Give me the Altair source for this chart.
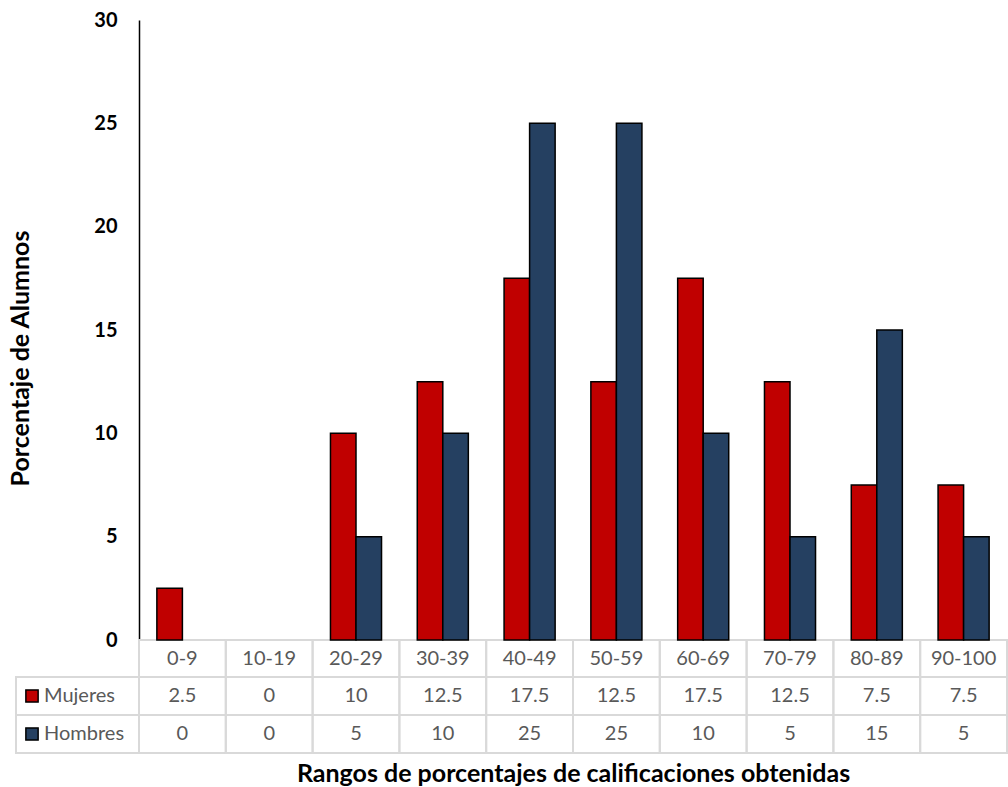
import altair as alt
import pandas as pd

# Score ranges and the share of students (percent) in each, by group
rangos = ["0-9", "10-19", "20-29", "30-39", "40-49",
          "50-59", "60-69", "70-79", "80-89", "90-100"]
mujeres = [2.5, 0, 10, 12.5, 17.5, 12.5, 17.5, 12.5, 7.5, 7.5]
hombres = [0, 0, 5, 10, 25, 25, 10, 5, 15, 5]
grupos = ["Mujeres", "Hombres"]
colores = ["#C00000", "#254061"]

FONT = "Lato"
GRID = "#D9D9D9"
TXT = "#595959"

W, H = 868, 620
ROW_TOP = [H, H + 37, H + 75]        # header / Mujeres / Hombres row tops
ROW_BOT = [H + 37, H + 75, H + 113]

long_df = pd.DataFrame({
    "rango": rangos * 2,
    "grupo": ["Mujeres"] * len(rangos) + ["Hombres"] * len(rangos),
    "valor": mujeres + hombres,
})
cat_df = pd.DataFrame({"rango": rangos})
leg_df = pd.DataFrame({"grupo": grupos})

x_cat = alt.X("rango:N", sort=rangos,
              scale=alt.Scale(paddingInner=0, paddingOuter=0),
              axis=alt.Axis(labels=False, ticks=False, domain=False, grid=False,
                            title="Rangos de porcentajes de calificaciones obtenidas",
                            titleFont=FONT, titleFontSize=25, titleFontWeight="bold",
                            titleColor="black", titleY=133, titleBaseline="middle"))

y_val = alt.Y("valor:Q",
              scale=alt.Scale(domain=[0, 30], nice=False),
              axis=alt.Axis(values=[0, 5, 10, 15, 20, 25, 30], ticks=False, grid=False,
                            domainColor="black", domainWidth=1.5,
                            labelFont=FONT, labelFontSize=20, labelFontWeight="bold",
                            labelColor="black", labelPadding=22,
                            title="Porcentaje de Alumnos",
                            titleFont=FONT, titleFontSize=25, titleFontWeight="bold",
                            titleColor="black", titleX=-119, titleY=338,
                            titleBaseline="middle", titleAngle=-90))

# Zero values draw no bar
bars = alt.Chart(long_df).transform_filter(alt.datum.valor > 0).mark_bar(
    stroke="black", strokeWidth=1.5).encode(
    x=x_cat,
    xOffset=alt.XOffset("grupo:N", sort=grupos,
                        scale=alt.Scale(domain=grupos, paddingInner=0, paddingOuter=0.7)),
    y=y_val,
    color=alt.Color("grupo:N", scale=alt.Scale(domain=grupos, range=colores), legend=None),
)

# Data table underneath the bars
cells = []
for r in range(3):
    cells.append(alt.Chart(cat_df).mark_rect(
        fill="white", fillOpacity=0, stroke=GRID, strokeWidth=2).encode(
        x=x_cat, y=alt.value(ROW_TOP[r]), y2=alt.value(ROW_BOT[r])))

leg_cells = []
for r in (1, 2):
    leg_cells.append(alt.Chart(cat_df.head(1)).mark_rect(
        fill="white", fillOpacity=0, stroke=GRID, strokeWidth=2).encode(
        x=alt.value(-123), x2=alt.value(0),
        y=alt.value(ROW_TOP[r]), y2=alt.value(ROW_BOT[r])))

header = alt.Chart(cat_df).mark_text(font=FONT, fontSize=20, color=TXT, baseline="middle").encode(
    x=x_cat, y=alt.value((ROW_TOP[0] + ROW_BOT[0]) / 2), text="rango:N")

value_rows = []
for i, g in enumerate(grupos):
    r = i + 1
    value_rows.append(alt.Chart(long_df).transform_filter(alt.datum.grupo == g).mark_text(
        font=FONT, fontSize=20, color=TXT, baseline="middle").encode(
        x=x_cat, y=alt.value((ROW_TOP[r] + ROW_BOT[r]) / 2), text="valor:Q"))

legend_marks = []
for i, g in enumerate(grupos):
    r = i + 1
    yc = (ROW_TOP[r] + ROW_BOT[r]) / 2
    sub = leg_df[leg_df.grupo == g]
    legend_marks.append(alt.Chart(sub).mark_square(
        size=150, stroke="black", strokeWidth=1.5, fill=colores[i], opacity=1).encode(
        x=alt.value(-107), y=alt.value(yc)))
    legend_marks.append(alt.Chart(sub).mark_text(
        font=FONT, fontSize=20, color=TXT, align="left", baseline="middle").encode(
        x=alt.value(-95), y=alt.value(yc), text="grupo:N"))

chart = alt.layer(
    *cells, *leg_cells, bars, header, *value_rows, *legend_marks
).properties(
    width=W, height=H,
    autosize=alt.AutoSizeParams(type="none"),
    padding={"left": 139, "top": 20, "right": 1, "bottom": 147},
).configure(background="white").configure_view(stroke="transparent", strokeWidth=0)

chart.save("out.html", embed_options={"renderer": "svg", "actions": False})
